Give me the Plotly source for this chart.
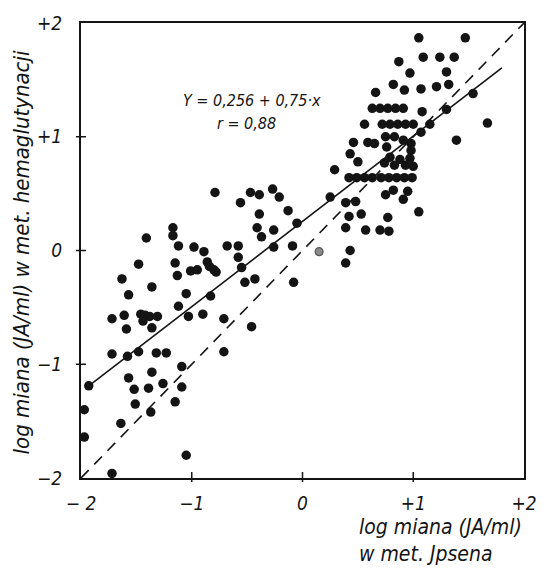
import plotly.graph_objects as go

# log titre, Ipsen method (x) vs haemagglutination method (y)
x_vals = [
    -1.17, -1.17, -1.41, -1.12, -0.98, -0.89, -0.68, -0.58, -0.41, -1.48,
    -1.15, -0.86, -0.84, -0.80, -0.78, -1.01, -0.95, -1.13, -0.58, -0.55,
    -0.43, -0.52, -1.63, -1.36, -1.57, -1.05, -0.83, -1.12, -1.72, -1.61,
    -1.46, -1.42, -1.44, -1.38, -1.31, -1.03, -0.90, -0.71, -0.46, -1.59,
    -1.36, -1.72, -1.58, -1.48, -1.32, -1.23, -0.71, -1.09, -1.93, -1.36,
    -1.57, -1.52, -1.39, -1.26, -1.09, -1.51, -1.37, -1.15, -1.97, -1.64,
    -1.97, -1.05, -1.72,
    -0.79, -0.56, -0.47, -0.39, -0.27, -0.21, -0.39, -0.13, -0.37, -0.26,
    -0.05, 0.25, -0.26, -0.09, -0.08, 0.29,
    0.39, 0.48, 0.53, 0.42, 0.39, 0.57, 0.70, 0.78, 0.77, 0.75,
    0.82, 0.95, 0.91, 1.05, 0.43, 0.39,
    0.42, 0.49, 0.56, 0.63, 0.71, 0.78, 0.85, 0.92, 0.99,
    0.50, 0.43, 0.46, 0.59, 0.65, 0.56,
    0.72, 0.79, 0.86, 0.93, 1.00, 1.15, 1.07,
    0.63, 0.70, 0.77, 0.84, 0.91, 1.08, 1.30, 1.67, 1.39,
    0.66, 0.82, 0.92, 1.07, 1.21, 1.32, 1.54, 0.97, 1.30, 0.87,
    1.09, 1.24, 1.37, 1.05, 1.47,
    0.75, 0.83, 0.91, 0.98, 0.76, 0.98, 0.79, 0.88, 0.97, 0.74,
    0.83, 0.93, 1.00,
]
y_vals = [
    0.20, 0.13, 0.11, 0.04, 0.03, -0.01, 0.04, 0.04, 0.20, -0.12,
    -0.11, -0.10, -0.14, -0.17, -0.19, -0.18, -0.17, -0.22, -0.06, -0.15,
    -0.25, -0.28, -0.25, -0.32, -0.39, -0.38, -0.40, -0.49, -0.60, -0.57,
    -0.56, -0.57, -0.62, -0.58, -0.58, -0.58, -0.56, -0.60, -0.67, -0.69,
    -0.68, -0.91, -0.93, -0.89, -0.90, -0.90, -0.89, -1.02, -1.19, -1.07,
    -1.12, -1.22, -1.21, -1.17, -1.20, -1.35, -1.42, -1.33, -1.40, -1.52,
    -1.64, -1.80, -1.96,
    0.51, 0.42, 0.51, 0.49, 0.54, 0.47, 0.32, 0.35, 0.12, 0.18,
    0.24, 0.47, 0.03, 0.04, -0.28, 0.71,
    0.42, 0.43, 0.32, 0.30, 0.20, 0.18, 0.18, 0.17, 0.29, 0.49,
    0.53, 0.52, 0.45, 0.34, 0.00, -0.11,
    0.64, 0.64, 0.64, 0.64, 0.64, 0.64, 0.64, 0.64, 0.64,
    0.78, 0.85, 0.95, 0.95, 0.94, 1.11,
    1.11, 1.11, 1.11, 1.11, 1.11, 1.11, 1.04,
    1.25, 1.25, 1.25, 1.25, 1.25, 1.22, 1.24, 1.12, 0.97,
    1.39, 1.46, 1.41, 1.42, 1.44, 1.46, 1.38, 1.56, 1.57, 1.66,
    1.70, 1.70, 1.70, 1.87, 1.87,
    1.00, 1.00, 0.97, 0.94, 0.91, 0.88, 0.82, 0.80, 0.81, 0.77,
    0.75, 0.75, 0.74,
]

# single faint (grey) observation
grey_x = [0.15]
grey_y = [-0.01]

# regression Y = a + b·x
intercept = 0.256
slope = 0.75
fit_x = [-1.95, 1.8]
fit_y = [intercept + slope * v for v in fit_x]

# line of identity
diag = [-2, 2]

tick_vals = [-2, -1, 0, 1, 2]
tick_text = ["\u2212 2", "\u22121", "0", "+1", "+2"]
ytick_text = ["\u22122", "\u22121", "0", "+1", "+2"]
inner_ticks = [-1, 0, 1]

FONT = "DejaVu Sans Condensed, Liberation Sans Narrow, DejaVu Sans, sans-serif"
INK = "#141414"

fig = go.Figure()

fig.add_trace(go.Scatter(
    x=diag, y=diag, mode="lines",
    line=dict(color=INK, width=1.6, dash="11px,8px"),
    hoverinfo="skip", showlegend=False,
))
fig.add_trace(go.Scatter(
    x=fit_x, y=fit_y, mode="lines",
    line=dict(color=INK, width=1.6),
    hoverinfo="skip", showlegend=False,
))
fig.add_trace(go.Scatter(
    x=x_vals, y=y_vals, mode="markers",
    marker=dict(color=INK, size=9.5, line=dict(width=0)),
    cliponaxis=False, showlegend=False,
))
fig.add_trace(go.Scatter(
    x=grey_x, y=grey_y, mode="markers",
    marker=dict(color="#8a8a8a", size=8, line=dict(color="#555", width=1.2)),
    cliponaxis=False, showlegend=False,
))

axis_common = dict(
    range=[-2, 2],
    tickvals=tick_vals,
    showgrid=False,
    zeroline=False,
    showline=True,
    linecolor=INK,
    linewidth=2,
    mirror=True,
    ticks="",
    tickfont=dict(family=FONT, size=19, color=INK, style="italic"),
)

fig.update_xaxes(**axis_common, ticktext=tick_text, ticklabelstandoff=7)
fig.update_yaxes(**axis_common, ticktext=ytick_text, ticklabelstandoff=13)

# short tick marks crossing the axis lines
shapes = []
for v in inner_ticks:
    shapes.append(dict(
        type="line", xref="x", x0=v, x1=v,
        yref="paper", ysizemode="pixel", yanchor=0, y0=-4, y1=6,
        line=dict(color=INK, width=1.5),
    ))
    shapes.append(dict(
        type="line", yref="y", y0=v, y1=v,
        xref="paper", xsizemode="pixel", xanchor=0, x0=-5, x1=5,
        line=dict(color=INK, width=1.5),
    ))

annotations = [
    dict(x=-0.46, y=1.32, xref="x", yref="y", showarrow=False,
         text="Y = 0,256 + 0,75\u00b7x",
         font=dict(family=FONT, size=16, color=INK, style="italic")),
    dict(x=-0.51, y=1.12, xref="x", yref="y", showarrow=False,
         text="r = 0,88",
         font=dict(family=FONT, size=16, color=INK, style="italic")),
    dict(x=-0.134, y=0.495, xref="paper", yref="paper", showarrow=False,
         textangle=-90, xanchor="center", yanchor="middle",
         text="log miana (JA/ml) w met. hemaglutynacji",
         font=dict(family=FONT, size=22, color=INK, style="italic")),
    dict(x=0.622, y=-0.076, xref="paper", yref="paper", showarrow=False,
         xanchor="left", yanchor="top", align="left",
         text="log miana (JA/ml)<br>w met. Jpsena",
         font=dict(family=FONT, size=21, color=INK, style="italic")),
]

fig.update_layout(
    width=549, height=569,
    margin=dict(l=81, r=14, t=21, b=91),
    paper_bgcolor="white",
    plot_bgcolor="white",
    shapes=shapes,
    annotations=annotations,
)

fig.write_html("out.html")
